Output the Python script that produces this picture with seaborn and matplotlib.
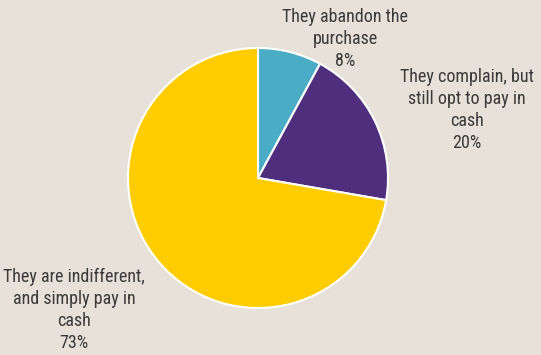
import matplotlib
matplotlib.use("Agg")
import matplotlib.pyplot as plt
from matplotlib import font_manager
import seaborn as sns

# Payment behaviour when cash is the only option
categories = [
    "They abandon the\npurchase",
    "They complain, but\nstill opt to pay in\ncash",
    "They are indifferent,\nand simply pay in\ncash",
]
shares = [8, 20, 73]
colors = ["#4BACC6", "#4E2E7D", "#FFCC00"]

bg = "#E7E1DA"
sns.set_theme(style="white")

available = {f.name for f in font_manager.fontManager.ttflist}
family = next((f for f in ["Roboto Condensed", "Archivo Narrow", "PT Sans Narrow", "Liberation Sans"]
               if f in available), "DejaVu Sans")
plt.rcParams["font.family"] = [family, "DejaVu Sans"]

W, H = 541, 355
fig = plt.figure(figsize=(W / 100, H / 100), dpi=100, facecolor=bg)

cx, cy, r = 258, 178, 130
ax = fig.add_axes([(cx - r) / W, (H - cy - r) / H, 2 * r / W, 2 * r / H])
ax.set_facecolor(bg)
ax.pie(shares, colors=colors, startangle=90, counterclock=False,
       wedgeprops=dict(edgecolor="white", linewidth=1.5))
ax.set_xlim(-1, 1)
ax.set_ylim(-1, 1)
ax.set_aspect("equal")
ax.axis("off")

# label centres in figure pixels
label_pos = [(345, 39), (467, 110), (74, 310)]
for cat, val, (lx, ly) in zip(categories, shares, label_pos):
    fig.text(lx / W, 1 - ly / H, f"{cat}\n{val}%", ha="center", va="center",
             multialignment="center", fontsize=13, color="#3A3A3A",
             linespacing=1.3)

fig.savefig("out.png", dpi=100, facecolor=bg)
